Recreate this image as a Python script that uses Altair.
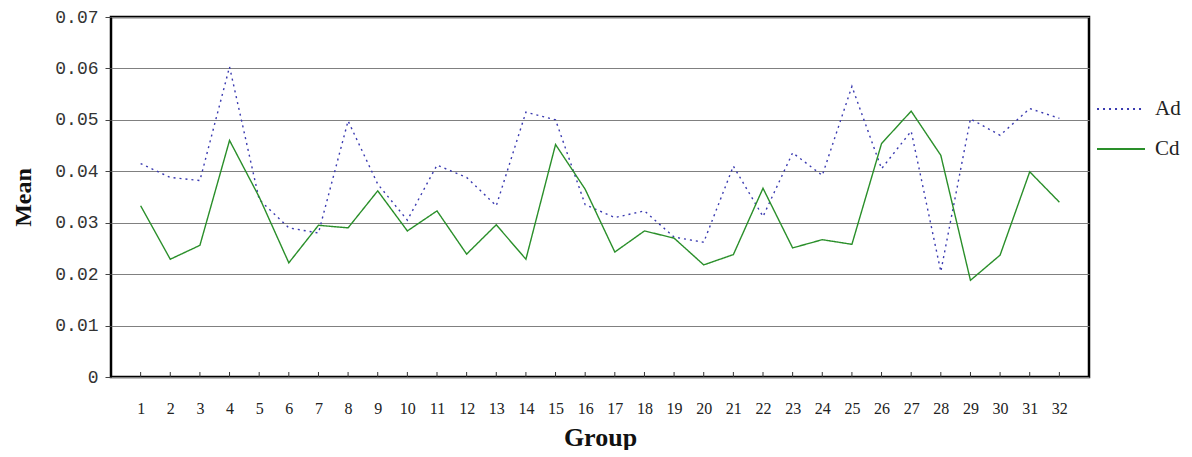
import altair as alt
import pandas as pd

groups = list(range(1, 33))
ad_values = [0.0415, 0.0388, 0.0382, 0.0603, 0.0345, 0.0290, 0.0280, 0.0498, 0.0375,
             0.0305, 0.0412, 0.0388, 0.0333, 0.0515, 0.0500, 0.0335, 0.0310, 0.0323,
             0.0272, 0.0262, 0.0410, 0.0312, 0.0436, 0.0392, 0.0565, 0.0405, 0.0478,
             0.0205, 0.0502, 0.0470, 0.0522, 0.0503]
cd_values = [0.0333, 0.0229, 0.0256, 0.0460, 0.0350, 0.0222, 0.0295, 0.0290, 0.0362,
             0.0284, 0.0323, 0.0239, 0.0296, 0.0229, 0.0452, 0.0365, 0.0243, 0.0284,
             0.0270, 0.0218, 0.0238, 0.0367, 0.0251, 0.0267, 0.0258, 0.0454, 0.0517,
             0.0431, 0.0188, 0.0237, 0.0399, 0.0340]
series_names = ["Ad", "Cd"]
y_ticks = [0, 0.01, 0.02, 0.03, 0.04, 0.05, 0.06, 0.07]

rows = []
for g, a, c in zip(groups, ad_values, cd_values):
    rows.append({"Group": g, "series": "Ad", "Mean": a})
    rows.append({"Group": g, "series": "Cd", "Mean": c})
df = pd.DataFrame(rows)
gdf = pd.DataFrame({"Group": groups})

W, H = 978, 360

xenc = alt.X("Group:O", sort=groups,
             scale=alt.Scale(type="point", padding=1.05),
             axis=alt.Axis(title="Group", labelAngle=0, ticks=False, domain=False,
                           labelFont="Liberation Serif", labelFontSize=16, labelColor="#222",
                           labelPadding=23, titleFont="Liberation Serif", titleFontSize=26,
                           titleFontWeight="bold", titleColor="#111", titlePadding=8))

leg = alt.Legend(title=None, orient="none", legendX=985, legendY=67,
                 symbolType="stroke", symbolSize=2300, symbolStrokeWidth=2,
                 labelFont="Liberation Serif", labelFontSize=21, labelColor="#222",
                 rowPadding=5, labelOffset=9)

lines = alt.Chart(df).mark_line(strokeWidth=1.4).encode(
    x=xenc,
    y=alt.Y("Mean:Q", scale=alt.Scale(domain=[0, 0.07], nice=False, zero=True),
            axis=alt.Axis(title="Mean", values=y_ticks, domain=False,
                          labelExpr="datum.value == 0 ? '0' : format(datum.value, '.2f')",
                          labelFont="Liberation Mono", labelFontSize=18, labelColor="#333",
                          labelPadding=7, tickSize=6, tickColor="#444",
                          grid=True, gridColor="#808080", gridWidth=1, gridOpacity=1,
                          titleFont="Liberation Serif", titleFontSize=24, titleFontWeight="bold",
                          titleColor="#111", titlePadding=19)),
    color=alt.Color("series:N", scale=alt.Scale(domain=series_names, range=["#3a3ab0", "#2a8f2a"]),
                    legend=leg),
    strokeDash=alt.StrokeDash("series:N", scale=alt.Scale(domain=series_names, range=[[2, 4], [1, 0]]),
                              legend=leg),
)

ticks = alt.Chart(gdf).mark_rule(color="#333", strokeWidth=1).encode(
    x=alt.X("Group:O", sort=groups),
    y=alt.value(H),
    y2=alt.value(H - 5),
)

chart = alt.layer(lines, ticks).properties(
    width=W, height=H, background="white",
    padding={"left": 3, "top": 0, "right": 0, "bottom": 0},
).configure_view(stroke="black", strokeWidth=2.5)

chart.save("out.html", embed_options={"renderer": "svg", "actions": False})
